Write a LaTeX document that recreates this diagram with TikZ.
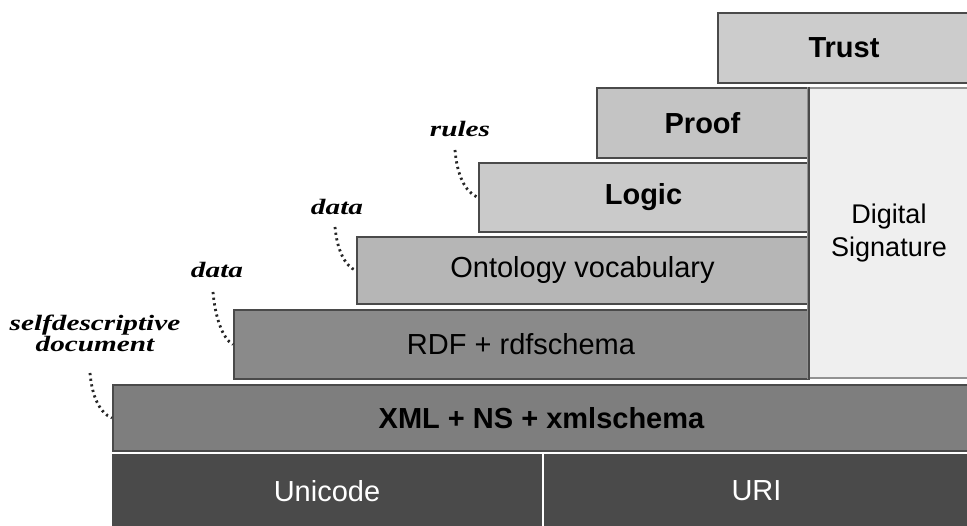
\documentclass[tikz,border=0pt]{standalone}
\usepackage{fontspec}
\setmainfont{Liberation Sans}
\newfontfamily\hintfont{Liberation Serif}
\definecolor{edgec}{HTML}{4A4A4A}
\definecolor{basec}{HTML}{4A4A4A}
\definecolor{xmlc}{HTML}{7E7E7E}
\definecolor{rdfc}{HTML}{8A8A8A}
\definecolor{ontoc}{HTML}{B6B6B6}
\definecolor{logicc}{HTML}{CACACA}
\definecolor{proofc}{HTML}{C4C4C4}
\definecolor{trustc}{HTML}{CCCCCC}
\definecolor{sigc}{HTML}{EFEFEF}
\tikzset{
  layer/.style={draw=edgec, line width=2.2pt, inner sep=0pt, align=center,
    font=\fontsize{29}{33}\selectfont, text=black},
  boldlayer/.style={layer, font=\bfseries\fontsize{29}{33}\selectfont},
  hint/.style={inner sep=1pt, align=center,
    font=\hintfont\bfseries\itshape\fontsize{22}{23}\selectfont},
  hintline/.style={line width=2.8pt, dash pattern=on 2.2pt off 3.5pt, draw=black!85}
}
\newcommand{\widen}[1]{\scalebox{1.33}[1]{#1}}
\begin{document}
\begin{tikzpicture}[x=1pt,y=-1pt]
  \useasboundingbox (0,0) rectangle (967,526);
  \clip (0,0) rectangle (967,526);
  \fill[white] (0,0) rectangle (967,526);

  % the stack of layers, bottom to top
  \node[layer, fill=basec, text=white, minimum width=428pt, minimum height=72pt]
    (unicode) at (327,491) {Unicode};
  \node[layer, fill=basec, text=white, minimum width=427pt, minimum height=72pt]
    (uri) at (756.5,491) {URI};
  \draw[white, line width=1.6pt] ([xshift=1pt]unicode.north east) -- ([xshift=1pt]unicode.south east);
  \node[boldlayer, fill=xmlc, minimum width=857pt, minimum height=66pt]
    (xml) at (541.5,418) {XML + NS + xmlschema};
  \node[layer, fill=rdfc, minimum width=574pt, minimum height=69pt]
    (rdf) at (521,344.5) {RDF + rdfschema};
  \node[layer, fill=ontoc, minimum width=451pt, minimum height=67pt]
    (onto) at (582.5,270.5) {Ontology vocabulary};
  \node[boldlayer, fill=logicc, minimum width=329pt, minimum height=69pt]
    (logic) at (643.5,197.5) {Logic};
  \node[boldlayer, fill=proofc, minimum width=211pt, minimum height=70pt]
    (proof) at (702.5,123) {Proof};
  \node[boldlayer, fill=trustc, minimum width=252pt, minimum height=70pt]
    (trust) at (844,48) {Trust};
  \node[layer, fill=sigc, draw=edgec!60, minimum width=162pt, minimum height=290pt,
    font=\fontsize{27}{33}\selectfont]
    (sig) at (889,233) {Digital\\Signature};
  \draw[edgec, line width=2.5pt] (proof.north east) -- (rdf.south east);

  % side notes with dotted leaders
  \node[hint] (rules) at (460,129) {\widen{rules}};
  \node[hint] (data2) at (337,207) {\widen{data}};
  \node[hint] (data1) at (217,270) {\widen{data}};
  \node[hint] (self) at (95,333) {\widen{selfdescriptive}\\[-2pt]\widen{document}};

  \coordinate (r0) at (455,150);
  \coordinate (d20) at (335,227);
  \coordinate (d10) at (213,292);
  \coordinate (s0) at (90,373);

  \draw[hintline] (r0) .. controls (457,175) and (465,192) .. (logic.west);
  \draw[hintline] (d20) .. controls (337,250) and (345,266) .. (onto.west);
  \draw[hintline] (d10) .. controls (215,316) and (222,338) .. (rdf.west);
  \draw[hintline] (s0) .. controls (92,397) and (100,413) .. (xml.west);
\end{tikzpicture}
\end{document}
